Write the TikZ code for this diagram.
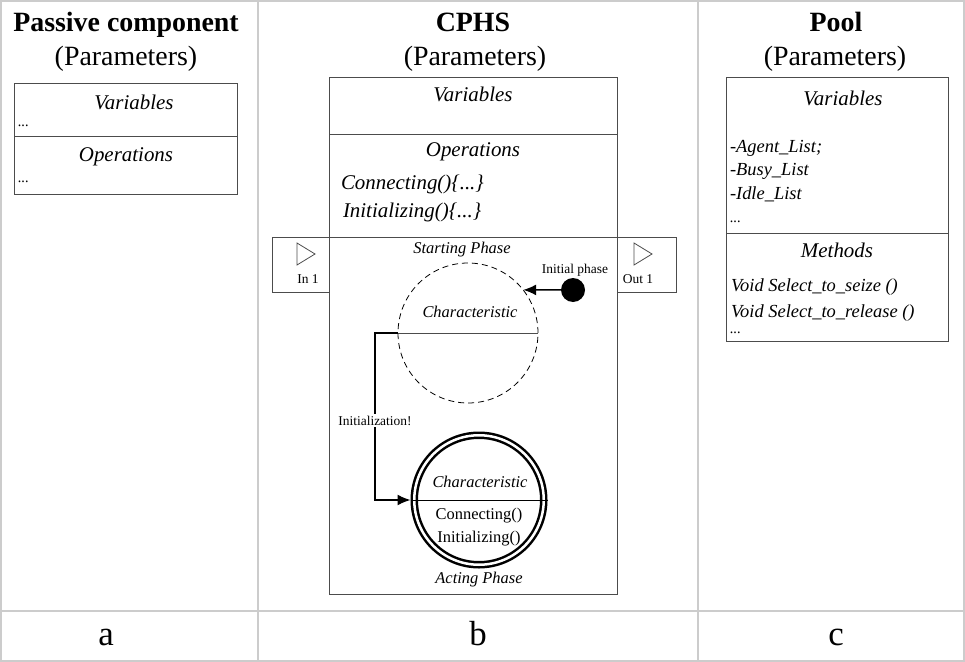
\documentclass[tikz,border=0pt]{standalone}
\usepackage{fontspec}
\setmainfont{Liberation Serif}
\usetikzlibrary{arrows.meta}
\newcommand{\fsz}[1]{\fontsize{#1}{#1}\selectfont}

\begin{document}
\begin{tikzpicture}[x=1bp, y=-1bp]
\tikzset{ >={Latex[length=13bp,width=11bp]}, inner sep=0pt, outer sep=0pt }
\tikzset{ grid/.style={draw=black!20, line width=2bp},
          box/.style={draw=black!70, line width=1bp},
          txt/.style={anchor=base, font=\fsz{#1}},
          itxt/.style={anchor=base west, font=\fsz{#1}\itshape} }
%\draw [lightgray, dashed](0,0) grid (965,662);
\useasboundingbox (0,0) rectangle (965,662);

% table
\draw [grid] (1,1) rectangle (963.5,661);
\draw [grid] (258,1) -- (258,661);
\draw [grid] (698,1) -- (698,661);
\draw [grid] (1,611) -- (963.5,611);

\node [txt=35] (capA) at (106,645) {a};
\node [txt=35] (capB) at (478,645) {b};
\node [txt=35] (capC) at (836,645) {c};

% a: passive component
\node [txt=28, font=\fsz{28}\bfseries] (titA) at (126,32) {Passive component};
\node [txt=28] (parA) at (126,66) {(Parameters)};
\draw [box] (14,84) rectangle (237,194);
\draw [box] (14,137) -- (237,137);
\node [txt=21, font=\fsz{21}\itshape] (varA) at (134,110) {Variables};
\node [itxt=15] (dotA1) at (18,127) {...};
\node [txt=21, font=\fsz{21}\itshape] (opA) at (126,162) {Operations};
\node [itxt=15] (dotA2) at (18,183) {...};

% b: CPHS
\node [txt=28, font=\fsz{28}\bfseries] (titB) at (473,32) {CPHS};
\node [txt=28] (parB) at (475,66) {(Parameters)};
\draw [box] (329,78) rectangle (617,237);
\draw [box] (329,135) -- (617,135);
\node [txt=21, font=\fsz{21}\itshape] (varB) at (473,102) {Variables};
\node [txt=21, font=\fsz{21}\itshape] (opB) at (473,157) {Operations};
\node [itxt=21] (conB) at (341,190) {Connecting()\{...\}};
\node [itxt=21] (iniB) at (343,217) {Initializing()\{...\}};

\draw [box] (329,237) rectangle (617,594);
\draw [box] (272,237) rectangle (329,292);
\draw [box] (617,237) rectangle (676,292);
\draw [box, line width=0.8bp] (297,243) -- (315,254) -- (297,265) -- cycle;
\draw [box, line width=0.8bp] (634,243) -- (652,254) -- (634,265) -- cycle;
\node [txt=13.5] (inB) at (308,283) {In 1};
\node [txt=13.5] (outB) at (638,283) {Out 1};

\node [txt=16.5, font=\fsz{16.5}\itshape] (startB) at (462,253) {Starting Phase};
\node [txt=16.5, font=\fsz{16.5}\itshape] (actB) at (479,583) {Acting Phase};

\node [circle, draw, line width=0.8bp, dash pattern=on 6bp off 4bp, minimum size=140bp] (dashC) at (468,333) {};
\draw [black!70, line width=0.9bp] (dashC.west) -- (dashC.east);
\node [txt=16.5, font=\fsz{16.5}\itshape] (chrS) at (470,317) {Characteristic};

\node [circle, fill=black, minimum size=24bp] (init) at (573,290) {};
\node [txt=13.5] (iniP) at (575,273) {Initial phase};
\draw [->, line width=1.5bp] (init) -- (dashC.38);

\node [circle, draw, double, line width=2.5bp, double distance=2.5bp, minimum size=129.5bp, outer sep=3.75bp] (actC) at (479,500) {};
\draw [line width=0.9bp] (actC.west) -- (actC.east);
\node [txt=16.5, font=\fsz{16.5}\itshape] (chrA) at (480,487) {Characteristic};
\node [txt=16.5] (conA) at (479,519) {Connecting()};
\node [txt=16.5] (iniA) at (479,542) {Initializing()};

\coordinate (bendI) at (375,333);
\draw [->, line width=1.5bp] (dashC.west) -- (bendI) |- node [pos=0.262, fill=white, inner sep=1.5bp, font=\fsz{13.5}] (lblI) {Initialization!} (actC.west);

% c: pool
\node [txt=28, font=\fsz{28}\bfseries] (titC) at (836,32) {Pool};
\node [txt=28] (parC) at (835,66) {(Parameters)};
\draw [box] (726,78) rectangle (948,341);
\draw [box] (726,233) -- (948,233);
\node [txt=21, font=\fsz{21}\itshape] (varC) at (843,106) {Variables};
\node [itxt=18.5] (agC) at (730,153) {-Agent\_List;};
\node [itxt=18.5] (buC) at (730,176) {-Busy\_List};
\node [itxt=18.5] (idC) at (730,199) {-Idle\_List};
\node [itxt=15] (dotC1) at (730,222) {...};
\node [txt=21, font=\fsz{21}\itshape] (meC) at (837,257) {Methods};
\node [itxt=18.5] (seC) at (731,291) {Void Select\_to\_seize ()};
\node [itxt=18.5] (reC) at (731,317) {Void Select\_to\_release ()};
\node [itxt=15] (dotC2) at (730,333) {...};

\end{tikzpicture}
\end{document}
